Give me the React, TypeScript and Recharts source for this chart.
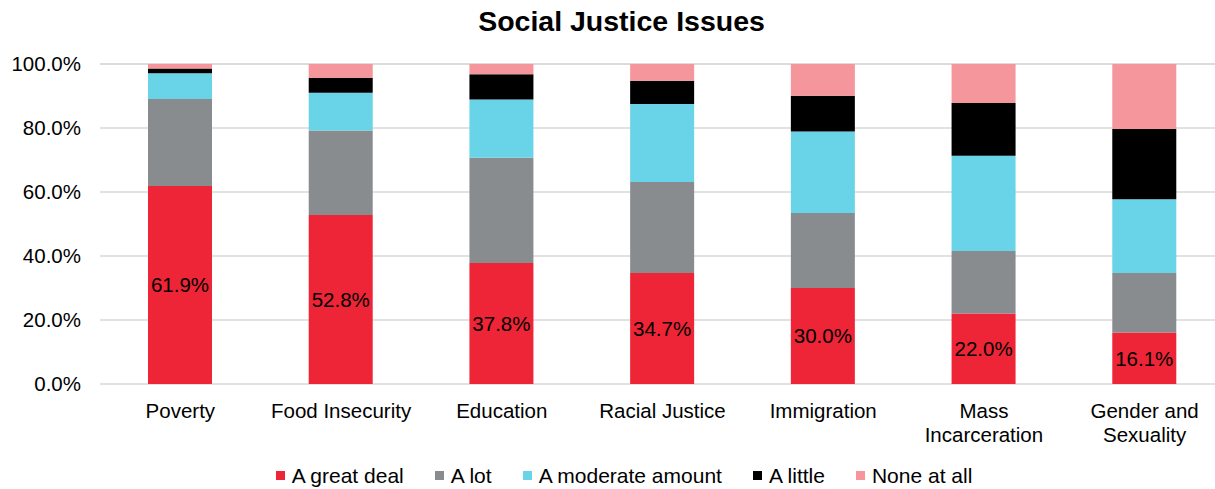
import React from "react";
import { BarChart, Bar, XAxis, YAxis, CartesianGrid, Legend, LabelList } from "recharts";

const CATEGORIES = ["Poverty", "Food Insecurity", "Education", "Racial Justice", "Immigration", "Mass Incarceration", "Gender and Sexuality"];
const TICK_LINES: Record<string, string[]> = {
  "Mass Incarceration": ["Mass", "Incarceration"],
  "Gender and Sexuality": ["Gender and", "Sexuality"],
};

const GREAT_DEAL = [61.9, 52.8, 37.8, 34.7, 30.0, 22.0, 16.1];
const A_LOT = [27.2, 26.4, 32.9, 28.4, 23.4, 19.6, 18.6];
const MODERATE = [8.0, 11.8, 18.2, 24.4, 25.5, 29.7, 23.0];
const A_LITTLE = [1.5, 4.6, 7.9, 7.3, 11.2, 16.5, 22.0];
const NONE = [1.4, 4.4, 3.2, 5.2, 9.9, 12.2, 20.3];

const Y_TICKS = [0, 20, 40, 60, 80, 100];

const SERIES = [
  { key: "greatDeal", name: "A great deal", color: "#ED2536" },
  { key: "aLot", name: "A lot", color: "#898C8E" },
  { key: "moderate", name: "A moderate amount", color: "#69D3E8" },
  { key: "little", name: "A little", color: "#000000" },
  { key: "none", name: "None at all", color: "#F5959C" },
];

const data = CATEGORIES.map((name, i) => ({
  name,
  greatDeal: GREAT_DEAL[i],
  aLot: A_LOT[i],
  moderate: MODERATE[i],
  little: A_LITTLE[i],
  none: NONE[i],
}));

const FONT = "'Liberation Sans', Arial, sans-serif";

function XTick(props: any) {
  const { x, y, payload } = props;
  const lines = TICK_LINES[payload.value] ?? [payload.value];
  return (
    <text x={x} y={y} textAnchor="middle" fontSize={20.5} fill="#000" fontFamily={FONT}>
      {lines.map((l, i) => (
        <tspan key={i} x={x} dy={i === 0 ? 26 : 23.5}>{l}</tspan>
      ))}
    </text>
  );
}

function LegendContent() {
  return (
    <div style={{ display: "flex", justifyContent: "center", alignItems: "center", height: 40, boxSizing: "border-box", paddingTop: 13, paddingLeft: 33, fontFamily: FONT, fontSize: 21, color: "#000" }}>
      {SERIES.map((s, i) => (
        <div key={s.key} style={{ display: "flex", alignItems: "center", marginRight: i === SERIES.length - 1 ? 0 : 31 }}>
          <span style={{ width: 9, height: 9, background: s.color, display: "inline-block", marginRight: 7 }} />
          <span>{s.name}</span>
        </div>
      ))}
    </div>
  );
}

export default function App() {
  return (
    <div style={{ position: "absolute", left: 0, top: 0, width: 1215, height: 489, overflow: "hidden", background: "#fff", fontFamily: FONT }}>
      <div style={{ position: "absolute", left: 0, top: 5, width: 1215, paddingLeft: 28, boxSizing: "border-box", textAlign: "center", fontSize: 28.5, fontWeight: "bold" }}>
        Social Justice Issues
      </div>
      <BarChart width={1230} height={489} data={data} margin={{ top: 64, right: 5, left: 0, bottom: 0 }}>
        <CartesianGrid vertical={false} stroke="#d9d9d9" strokeWidth={1.5} />
        <XAxis dataKey="name" axisLine={false} tickLine={false} interval={0} height={65} tick={<XTick />} />
        <YAxis
          domain={[0, 100]}
          ticks={Y_TICKS}
          width={100}
          axisLine={false}
          tickLine={false}
          tickMargin={13}
          tickFormatter={(v: number) => v.toFixed(1) + "%"}
          tick={{ fontSize: 20.5, fill: "#000", fontFamily: FONT }}
        />
        <Legend verticalAlign="bottom" content={<LegendContent />} wrapperStyle={{ left: 0, width: 1215, height: 40 }} />
        {SERIES.map((s) => (
          <Bar key={s.key} dataKey={s.key} name={s.name} stackId="a" fill={s.color} barSize={64} isAnimationActive={false}>
            {s.key === "greatDeal" && (
              <LabelList dataKey="greatDeal" position="center" formatter={(v: number) => v.toFixed(1) + "%"} fill="#000" fontSize={20.5} fontFamily={FONT} />
            )}
          </Bar>
        ))}
      </BarChart>
    </div>
  );
}
